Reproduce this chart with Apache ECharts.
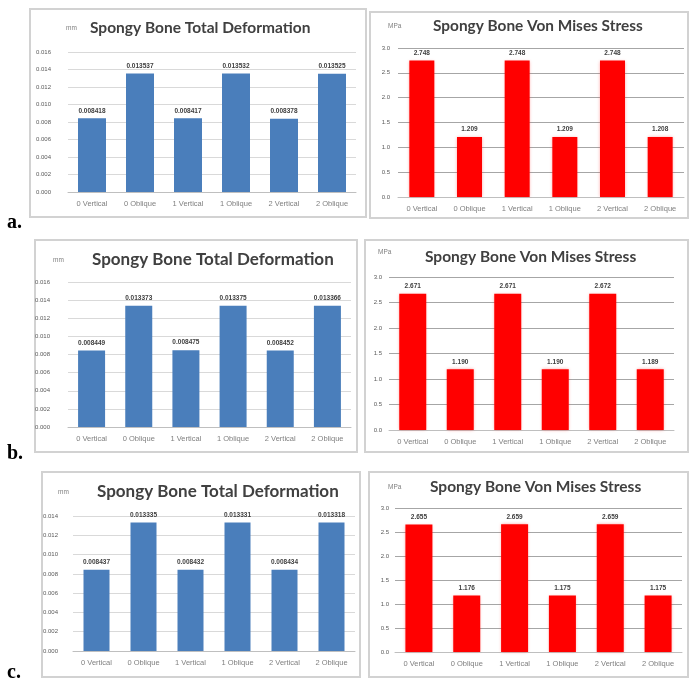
<!DOCTYPE html>
<html>
<head>
<meta charset="utf-8">
<script src="https://cdn.jsdelivr.net/npm/echarts@6/dist/echarts.min.js"></script>
<style>
  html, body { margin: 0; padding: 0; background: #fff; }
  #chart { width: 691px; height: 679px; }
</style>
</head>
<body>
<div id="chart"></div>
<script>
// Categories shared by every panel
const categories = ['0 Vertical', '0 Oblique', '1 Vertical', '1 Oblique', '2 Vertical', '2 Oblique'];

// Total deformation (mm) per case
const deformA = [0.008418, 0.013537, 0.008417, 0.013532, 0.008378, 0.013525];
const deformB = [0.008449, 0.013373, 0.008475, 0.013375, 0.008452, 0.013366];
const deformC = [0.008437, 0.013335, 0.008432, 0.013331, 0.008434, 0.013318];

// Von Mises stress (MPa) per case
const stressA = [2.748, 1.209, 2.748, 1.209, 2.748, 1.208];
const stressB = [2.671, 1.190, 2.671, 1.190, 2.672, 1.189];
const stressC = [2.655, 1.176, 2.659, 1.175, 2.659, 1.175];

// Value-axis ranges
const deformMaxAB = 0.016, deformMaxC = 0.014, deformStep = 0.002;
const stressMax = 3.0, stressStep = 0.5;

// Panel letters
const panelLetters = ['a.', 'b.', 'c.'];

const chart = echarts.init(document.getElementById('chart'), null, { renderer: 'canvas' });

// Layout of the six framed panels
const panels = [
  { box: [30, 9, 336, 208],  grid: [68, 52, 288, 140],  title: [90, 20, 15.5], unit: [66, 25, 'mm'],  ym: 17, bw: 28, kind: 'd', data: deformA, max: deformMaxAB },
  { box: [370, 12, 318, 206], grid: [398, 48, 286, 149], title: [433, 19, 15.4], unit: [388, 23, 'MPa'], ym: 8,  bw: 25, kind: 's', data: stressA, max: stressMax },
  { box: [35, 240, 322, 212], grid: [68, 282, 283, 145], title: [92, 251, 17],   unit: [53, 257, 'mm'],  ym: 18, bw: 27, kind: 'd', data: deformB, max: deformMaxAB },
  { box: [365, 240, 323, 212], grid: [389, 277, 285, 153], title: [425, 249, 15.5], unit: [378, 249, 'MPa'], ym: 7, bw: 27, kind: 's', data: stressB, max: stressMax },
  { box: [42, 472, 318, 205], grid: [73, 516, 282, 135], title: [97, 483, 17],   unit: [58, 489, 'mm'],  ym: 15, bw: 26, kind: 'd', data: deformC, max: deformMaxC },
  { box: [369, 472, 319, 205], grid: [395, 508, 287, 144], title: [430, 479, 15.5], unit: [388, 484, 'MPa'], ym: 6, bw: 27, kind: 's', data: stressC, max: stressMax }
];

const grids = [], xAxes = [], yAxes = [], series = [], titles = [], graphics = [];

panels.forEach((p, i) => {
  const isD = p.kind === 'd';
  const color = isD ? '#4a7ebb' : '#ff0000';

  graphics.push({
    type: 'rect', silent: true, z: -1,
    shape: { x: p.box[0], y: p.box[1], width: p.box[2], height: p.box[3] },
    style: { fill: '#fff', stroke: '#d2d2d2', lineWidth: 2 }
  });
  graphics.push({
    type: 'text', left: p.unit[0], top: p.unit[1],
    style: { text: p.unit[2], font: '6.5px "Liberation Sans"', fill: '#7f7f7f' }
  });

  titles.push({
    text: isD ? 'Spongy Bone Total Deformation' : 'Spongy Bone Von Mises Stress',
    left: p.title[0], top: p.title[1], padding: 0,
    textStyle: { fontFamily: 'Lato', fontWeight: 'bold', fontSize: p.title[2], color: '#404040' }
  });

  grids.push({ left: p.grid[0], top: p.grid[1], width: p.grid[2], height: p.grid[3], containLabel: false });

  xAxes.push({
    type: 'category', gridIndex: i, data: categories,
    axisLine: { show: true, lineStyle: { color: '#bfbfbf', width: 1 } },
    axisTick: { show: false },
    axisLabel: { fontSize: 7.5, color: '#7f7f7f', margin: 8, fontFamily: 'Liberation Sans', interval: 0 }
  });

  yAxes.push({
    type: 'value', gridIndex: i, min: 0, max: p.max,
    interval: isD ? deformStep : stressStep,
    axisLine: { show: false }, axisTick: { show: false },
    splitLine: { lineStyle: { color: isD ? '#d9d9d9' : '#a6a6a6', width: 1 } },
    axisLabel: {
      fontSize: 6, color: '#595959', margin: p.ym, fontFamily: 'Liberation Sans',
      formatter: v => v.toFixed(isD ? 3 : 1)
    }
  });

  series.push({
    type: 'bar', xAxisIndex: i, yAxisIndex: i, data: p.data,
    barWidth: p.bw,
    itemStyle: isD
      ? { color: color }
      : { color: color, shadowColor: 'rgba(255,60,60,0.45)', shadowBlur: 3 },
    label: {
      show: true, position: 'top', distance: 4,
      fontSize: 6.5, fontWeight: 'bold', color: '#404040', fontFamily: 'Liberation Sans',
      formatter: d => d.value.toFixed(isD ? 6 : 3)
    },
    animation: false
  });
});

// Panel letters on the left margin
const letterPos = [[7, 213], [7, 444], [7, 663]];
panelLetters.forEach((t, i) => {
  graphics.push({
    type: 'text', left: letterPos[i][0], top: letterPos[i][1],
    style: { text: t, font: 'bold 20px "Liberation Serif"', fill: '#000' }
  });
});

chart.setOption({
  animation: false,
  backgroundColor: '#fff',
  title: titles,
  grid: grids,
  xAxis: xAxes,
  yAxis: yAxes,
  series: series,
  graphic: graphics
});
</script>
</body>
</html>
